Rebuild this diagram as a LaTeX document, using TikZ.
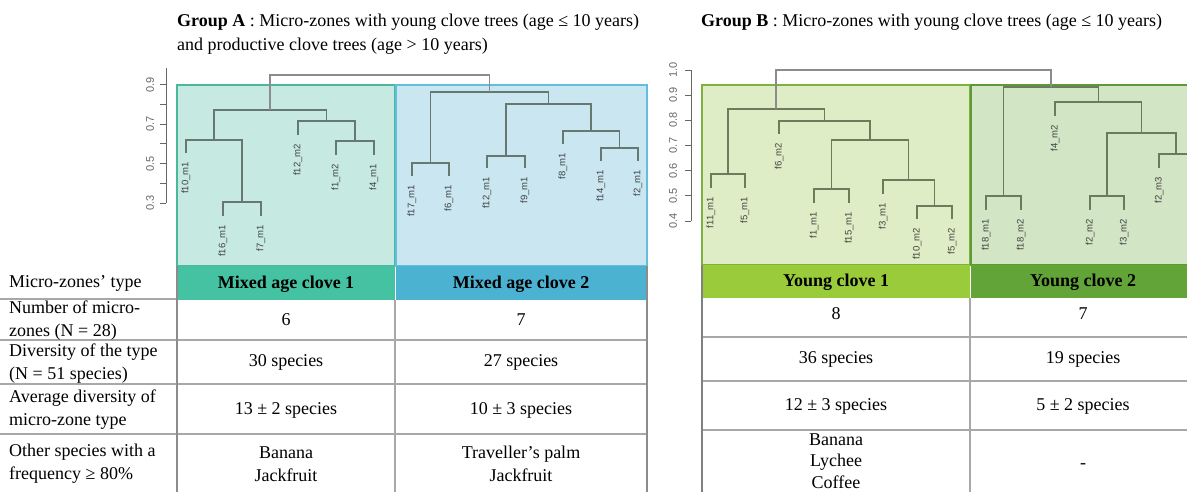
\documentclass[tikz,border=0pt]{standalone}
\usepackage{fontspec}
\setmainfont{Liberation Serif}
\newfontfamily\plotfont{Liberation Sans}
\definecolor{boxAone}{HTML}{C6EAE2}
\definecolor{edgeAone}{HTML}{4CB89B}
\definecolor{headAone}{HTML}{45C2A2}
\definecolor{boxAtwo}{HTML}{C9E6F1}
\definecolor{edgeAtwo}{HTML}{62BEDB}
\definecolor{headAtwo}{HTML}{4BB2D1}
\definecolor{boxBone}{HTML}{DFEDC6}
\definecolor{edgeBone}{HTML}{7EB23F}
\definecolor{headBone}{HTML}{9ACB3B}
\definecolor{boxBtwo}{HTML}{D2E5C4}
\definecolor{edgeBtwo}{HTML}{5C9A35}
\definecolor{headBtwo}{HTML}{63A438}
\definecolor{treeA}{HTML}{66786F}
\definecolor{treeB}{HTML}{6C7B5C}
\definecolor{rootcol}{HTML}{8C8C8C}
\definecolor{axiscol}{HTML}{666666}
\definecolor{rulecol}{HTML}{A8A8A8}

\begin{document}
\begin{tikzpicture}[x=1pt,y=-1pt,
    branch/.style={line width=1.1pt},
    leaf/.style={font=\plotfont\fontsize{9.5}{10}\selectfont,text=black!75,
                 rotate=90,anchor=east,inner sep=0pt},
    ticklabel/.style={font=\plotfont\fontsize{11}{11}\selectfont,text=axiscol,rotate=90,inner sep=0pt},
    cell/.style={font=\fontsize{18}{23}\selectfont,align=center,inner sep=0pt},
    headcell/.style={cell,font=\bfseries\fontsize{18}{23}\selectfont},
    rowlabel/.style={cell,align=left,anchor=west},
    title/.style={font=\fontsize{18}{24}\selectfont,align=left,anchor=west,inner sep=0pt},
    rule/.style={draw=rulecol,line width=1.4pt}]
  \useasboundingbox (0,0) rectangle (1187,492);
  \clip (0,0) rectangle (1187,492);

  % titles
  \node[title] (titleA) at (177,34) {\textbf{Group A} : Micro-zones with young clove trees (age ≤ 10 years)\\
                                    and productive clove trees (age > 10 years)};
  \node[title] (titleB) at (701,22) {\textbf{Group B} : Micro-zones with young clove trees (age ≤ 10 years)};

  % cluster boxes
  \filldraw[fill=boxAone,draw=edgeAone,line width=1.2pt] (177,85) rectangle (395,266);
  \filldraw[fill=boxAtwo,draw=edgeAtwo,line width=1.2pt] (396,85) rectangle (647,266);
  \filldraw[fill=boxBone,draw=edgeBone,line width=1.2pt] (702,85) rectangle (970,265);
  \filldraw[fill=boxBtwo,draw=edgeBtwo,line width=1.2pt] (971,85) rectangle (1200,265);

  % axes
  \draw[axiscol,line width=0.9pt] (166,68) -- (166,203);
  \foreach \k in {0,...,6}
    \draw[axiscol,line width=0.9pt] (166,{203-19.7*\k}) -- ++(-6,0);
  \foreach \v/\k in {0.3/0,0.5/2,0.7/4,0.9/6}
    \node[ticklabel] (tickA-\k) at (150,{203-19.7*\k}) {\v};
  \draw[axiscol,line width=0.9pt] (691,70) -- (691,221);
  \foreach \v [count=\k from 0] in {0.4,0.5,0.6,0.7,0.8,0.9,1.0} {
    \draw[axiscol,line width=0.9pt] (691,{221-25.17*\k}) -- ++(-6,0);
    \node[ticklabel] (tickB-\k) at (673,{221-25.17*\k}) {\v};
  }

  % dendrogram A
  \coordinate (a1) at (186,153);  \coordinate (a2) at (223,216);
  \coordinate (a3) at (261,216);  \coordinate (a4) at (298,135);
  \coordinate (a5) at (336,155);  \coordinate (a6) at (374,155);
  \coordinate (b1) at (412,176);  \coordinate (b2) at (449,176);
  \coordinate (b3) at (487,168);  \coordinate (b4) at (525,168);
  \coordinate (b5) at (563,144);  \coordinate (b6) at (601,161);
  \coordinate (b7) at (638,161);
  \coordinate (mA1) at (242,202); \coordinate (mA2) at (214,140);
  \coordinate (mA3) at (355,141); \coordinate (mA4) at (326.5,121);
  \coordinate (mA5) at (270,110);
  \coordinate (mB1) at (430.5,163); \coordinate (mB2) at (506,156);
  \coordinate (mB3) at (619.5,148); \coordinate (mB4) at (591,131);
  \coordinate (mB5) at (548.5,104); \coordinate (mB6) at (489.5,92);
  \coordinate (rootA) at (380,75);

  \begin{scope}[branch,draw=treeA]
    \draw (a2) |- (mA1) -| (a3);
    \draw (a1) |- (mA2) -| (mA1);
    \draw (a5) |- (mA3) -| (a6);
    \draw (a4) |- (mA4) -| (mA3);
    \draw (mA2) |- (mA5) -| (mA4);
    \draw (b1) |- (mB1) -| (b2);
    \draw (b3) |- (mB2) -| (b4);
    \draw (b6) |- (mB3) -| (b7);
    \draw (b5) |- (mB4) -| (mB3);
    \draw (mB2) |- (mB5) -| (mB4);
    \draw (mB1) |- (mB6) -| (mB5);
  \end{scope}
  \draw[branch,draw=rootcol] (mA5) |- (rootA) -| (mB6);

  % dendrogram B
  \coordinate (c1) at (711,188);  \coordinate (c2) at (745,188);
  \coordinate (c3) at (779,134);  \coordinate (c4) at (814,203);
  \coordinate (c5) at (849,203);  \coordinate (c6) at (883,194);
  \coordinate (c7) at (917,219);  \coordinate (c8) at (952,219);
  \coordinate (d1) at (986,210);  \coordinate (d2) at (1021,210);
  \coordinate (d3) at (1055,116); \coordinate (d4) at (1090,210);
  \coordinate (d5) at (1124,210); \coordinate (d6) at (1159,168);
  \coordinate (d7) at (1193,168);
  \coordinate (mC1) at (728,174);   \coordinate (mC2) at (831.5,189);
  \coordinate (mC3) at (934.5,206); \coordinate (mC4) at (908.5,180);
  \coordinate (mC5) at (870,140);   \coordinate (mC6) at (824.5,121);
  \coordinate (mC7) at (776,109);
  \coordinate (mD1) at (1003.5,196); \coordinate (mD2) at (1107,196);
  \coordinate (mD3) at (1176,154);   \coordinate (mD4) at (1141.5,133);
  \coordinate (mD5) at (1098.5,102); \coordinate (mD6) at (1051,87);
  \coordinate (rootB) at (913.5,70);

  \begin{scope}[branch,draw=treeB]
    \draw (c1) |- (mC1) -| (c2);
    \draw (c4) |- (mC2) -| (c5);
    \draw (c7) |- (mC3) -| (c8);
    \draw (c6) |- (mC4) -| (mC3);
    \draw (mC2) |- (mC5) -| (mC4);
    \draw (c3) |- (mC6) -| (mC5);
    \draw (mC1) |- (mC7) -| (mC6);
    \draw (d1) |- (mD1) -| (d2);
    \draw (d4) |- (mD2) -| (d5);
    \draw (d6) |- (mD3) -| (d7);
    \draw (mD2) |- (mD4) -| (mD3);
    \draw (d3) |- (mD5) -| (mD4);
    \draw (mD1) |- (mD6) -| (mD5);
  \end{scope}
  \draw[branch,draw=rootcol] (mC7) |- (rootB) -| (mD6);

  % leaf labels
  \foreach \p/\t in {a1/f10\_m1,a2/f16\_m1,a3/f7\_m1,a4/f12\_m2,a5/f1\_m2,a6/f4\_m1,
                     b1/f17\_m1,b2/f6\_m1,b3/f12\_m1,b4/f9\_m1,b5/f8\_m1,b6/f14\_m1,b7/f2\_m1,
                     c1/f11\_m1,c2/f5\_m1,c3/f6\_m2,c4/f1\_m1,c5/f15\_m1,c6/f3\_m1,c7/f10\_m2,c8/f5\_m2,
                     d1/f18\_m1,d2/f18\_m2,d3/f4\_m2,d4/f2\_m2,d5/f3\_m2,d6/f2\_m3}
    \node[leaf] (l-\p) at ([yshift=-9pt]\p) {\t};

  % table headers
  \fill[headAone] (177,266) rectangle (395,300);
  \fill[headAtwo] (396,266) rectangle (647,300);
  \fill[headBone] (702,265) rectangle (970,298);
  \fill[headBtwo] (971,265) rectangle (1187,298);

  % table rules
  \draw[rule] (0,299) -- (177,299);
  \foreach \y in {340,384,434} \draw[rule] (0,\y) -- (647,\y);
  \foreach \y in {337,381,430} \draw[rule] (702,\y) -- (1187,\y);
  \draw[rule,draw=black!45,line width=2pt] (177,266) -- (177,492);
  \draw[rule,draw=black!45,line width=2pt] (647,266) -- (647,492);
  \draw[rule] (395,300) -- (395,492);
  \draw[rule,draw=black!50,line width=2.4pt] (702,265) -- (702,492);
  \draw[rule] (970,298) -- (970,492);

  % row labels
  \node[rowlabel] (lbltype)  at (9,283) {Micro-zones’ type};
  \node[rowlabel] (lblnum)   at (9,321) {Number of micro-\\zones (N = 28)};
  \node[rowlabel] (lbldiv)   at (9,364) {Diversity of the type\\(N = 51 species)};
  \node[rowlabel] (lblavg)   at (9,410) {Average diversity of\\micro-zone type};
  \node[rowlabel] (lblother) at (9,464) {Other species with a\\frequency ≥ 80\%};

  % group A cells
  \node[headcell] (hA1) at (286,284) {Mixed age clove 1};
  \node[headcell] (hA2) at (521,284) {Mixed age clove 2};
  \node[cell] (nA1) at (286,320) {6};
  \node[cell] (nA2) at (521,320) {7};
  \node[cell] (dA1) at (286,362) {30 species};
  \node[cell] (dA2) at (521,362) {27 species};
  \node[cell] (vA1) at (286,410) {13 ± 2 species};
  \node[cell] (vA2) at (521,410) {10 ± 3 species};
  \node[cell] (oA1) at (286,464) {Banana\\Jackfruit};
  \node[cell] (oA2) at (521,464) {Traveller’s palm\\Jackfruit};

  % group B cells
  \node[headcell] (hB1) at (836,282) {Young clove 1};
  \node[headcell] (hB2) at (1083,282) {Young clove 2};
  \node[cell] (nB1) at (836,314) {8};
  \node[cell] (nB2) at (1083,314) {7};
  \node[cell] (dB1) at (836,359) {36 species};
  \node[cell] (dB2) at (1083,359) {19 species};
  \node[cell] (vB1) at (836,406) {12 ± 3 species};
  \node[cell] (vB2) at (1083,406) {5 ± 2 species};
  \node[cell,font=\fontsize{18}{21.5}\selectfont] (oB1) at (836,461) {Banana\\Lychee\\Coffee};
  \node[cell] (oB2) at (1083,466) {-};
\end{tikzpicture}
\end{document}
